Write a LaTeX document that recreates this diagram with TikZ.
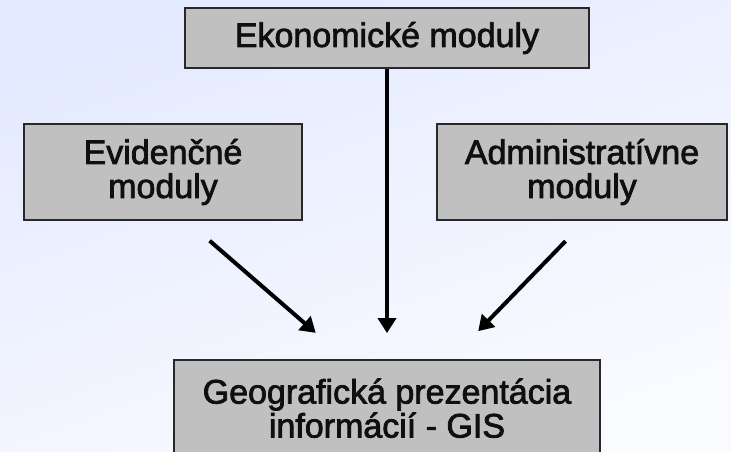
\documentclass[tikz,border=0pt]{standalone}
\usepackage{fontspec}
\newfontfamily\modfont[FakeBold=2.2]{Liberation Sans}
\usepackage{tikz}
\usetikzlibrary{arrows.meta}
\usetikzlibrary{positioning}
\definecolor{bgtop}{RGB}{228,234,255}
\definecolor{bgbot}{RGB}{250,251,255}
\definecolor{boxfill}{RGB}{192,192,192}
\definecolor{boxline}{RGB}{40,40,40}
\definecolor{txt}{RGB}{15,15,15}

\begin{document}
\begin{tikzpicture}[x=1pt, y=1pt,
    modul/.style={draw=boxline, line width=2.2pt, fill=boxfill, align=center,
        text=txt, inner sep=0pt, minimum height=96pt,
        font=\modfont\fontsize{34}{34}\selectfont},
    sipka/.style={-{Triangle[length=15pt,width=18pt]}, line width=4pt, black}]
     %background
     \shade[top color=bgtop, bottom color=bgbot, shading angle=20] (0,0) rectangle (731,-452);
     \useasboundingbox (0,0) rectangle (731,-452);

     %nodes
     \node[modul, minimum width=404pt, minimum height=60pt] (eko) at (387,-38) {Ekonomické moduly};
     \node[modul, minimum width=278pt] (evid) at (163,-172) {Evidenčné\\moduly};
     \node[modul, minimum width=290pt] (adm) at (582,-172) {Administratívne\\moduly};
     \node[modul, minimum width=426pt, below=290pt of eko] (gis) {Geografická prezentácia\\informácií - GIS};

     %arrows
     \draw[sipka, shorten <=30pt, shorten >=40pt] ([xshift=24pt]evid.south) -- ([xshift=-41pt]gis.north);
     \draw[sipka, shorten >=26pt] (eko.south) -- (eko.south |- gis.north);
     \draw[sipka, shorten <=28pt, shorten >=39pt] ([xshift=3pt]adm.south) -- ([xshift=64pt]gis.north);
\end{tikzpicture}
\end{document}
